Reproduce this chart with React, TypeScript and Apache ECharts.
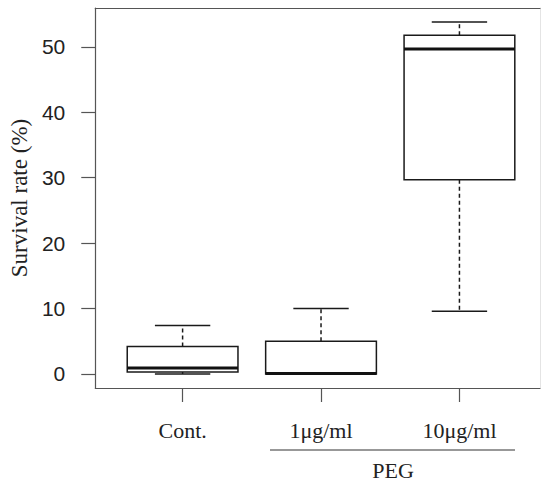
import React, { useEffect, useRef } from "react";
import * as echarts from "echarts";

const categories = ["Cont.", "1μg/ml", "10μg/ml"];
const positions = [1, 2, 3];
const whiskerLow = [0, 0, 9.6];
const q1 = [0.3, 0, 29.7];
const median = [0.9, 0.05, 49.7];
const q3 = [4.2, 5.0, 51.8];
const whiskerHigh = [7.4, 10.0, 53.8];
const yTicks = [0, 10, 20, 30, 40, 50];
const groupLabel = "PEG";
const yTitle = "Survival rate (%)";

const BOX_WIDTH = 0.8;
const STAPLE_WIDTH = 0.4;
const X_MIN = 0.369;
const X_MAX = 3.582;
const Y_MIN = -2.15;
const Y_MAX = 55.95;

export default function App() {
  const ref = useRef<HTMLDivElement>(null);
  useEffect(() => {
    if (!ref.current) return;
    const chart = echarts.init(ref.current, null, { renderer: "svg" });
    const data = positions.map((p, i) => [
      p,
      whiskerLow[i],
      q1[i],
      median[i],
      q3[i],
      whiskerHigh[i],
    ]);
    const stroke = "#1a1a1a";
    const frame = "#555";
    const option: any = {
      animation: false,
      backgroundColor: "#fff",
      grid: {
        left: 87,
        right: 2,
        top: 8,
        bottom: 95,
        show: false,
      },
      xAxis: [
        {
          type: "value",
          min: X_MIN,
          max: X_MAX,
          position: "bottom",
          splitLine: { show: false },
          axisLine: { show: true, onZero: false, lineStyle: { color: frame, width: 1.2 } },
          axisTick: {
            show: true,
            length: 14,
            customValues: positions,
            lineStyle: { color: frame, width: 1.2 },
          },
          axisLabel: {
            customValues: positions,
            margin: 31,
            fontFamily: "Liberation Serif",
            fontSize: 22,
            color: "#222",
            formatter: (v: number) => {
              const idx = positions.indexOf(Math.round(v));
              return idx >= 0 ? categories[idx] : "";
            },
          },
        },
        {
          type: "value",
          min: X_MIN,
          max: X_MAX,
          position: "top",
          splitLine: { show: false },
          axisLine: { show: true, onZero: false, lineStyle: { color: frame, width: 1.2 } },
          axisTick: { show: false },
          axisLabel: { show: false },
        },
      ],
      yAxis: [
        {
          type: "value",
          min: Y_MIN,
          max: Y_MAX,
          position: "left",
          splitLine: { show: false },
          axisLine: { show: true, onZero: false, lineStyle: { color: frame, width: 1.2 } },
          axisTick: {
            show: true,
            length: 14,
            customValues: yTicks,
            lineStyle: { color: frame, width: 1.2 },
          },
          axisLabel: {
            customValues: yTicks,
            margin: 30,
            fontFamily: "Liberation Sans",
            fontSize: 21,
            color: "#222",
          },
          name: yTitle,
          nameLocation: "middle",
          nameRotate: 90,
          nameGap: 61,
          nameTextStyle: {
            fontFamily: "Liberation Serif",
            fontSize: 23,
            color: "#222",
          },
        },
        {
          type: "value",
          min: Y_MIN,
          max: Y_MAX,
          position: "right",
          splitLine: { show: false },
          axisLine: { show: true, onZero: false, lineStyle: { color: "#e4e4e4", width: 1 } },
          axisTick: { show: false },
          axisLabel: { show: false },
        },
      ],
      series: [
        {
          type: "custom",
          data,
          xAxisIndex: 0,
          yAxisIndex: 0,
          encode: { x: 0, y: [1, 2, 3, 4, 5] },
          renderItem: (params: any, api: any) => {
            const x = api.value(0);
            const pLow = api.coord([x, api.value(1)]);
            const pQ1 = api.coord([x, api.value(2)]);
            const pMed = api.coord([x, api.value(3)]);
            const pQ3 = api.coord([x, api.value(4)]);
            const pHigh = api.coord([x, api.value(5)]);
            const halfW = api.size([BOX_WIDTH, 0])[0] / 2;
            const capHalf = api.size([STAPLE_WIDTH, 0])[0] / 2;
            const cx = pQ1[0];
            const dashStyle = {
              stroke,
              lineWidth: 1.5,
              lineDash: [4, 3],
            };
            const solid = { stroke, lineWidth: 1.5 };
            return {
              type: "group",
              children: [
                {
                  type: "line",
                  shape: { x1: cx, y1: pQ1[1], x2: cx, y2: pLow[1] },
                  style: dashStyle,
                },
                {
                  type: "line",
                  shape: { x1: cx, y1: pQ3[1], x2: cx, y2: pHigh[1] },
                  style: dashStyle,
                },
                {
                  type: "line",
                  shape: {
                    x1: cx - capHalf,
                    y1: pLow[1],
                    x2: cx + capHalf,
                    y2: pLow[1],
                  },
                  style: solid,
                },
                {
                  type: "line",
                  shape: {
                    x1: cx - capHalf,
                    y1: pHigh[1],
                    x2: cx + capHalf,
                    y2: pHigh[1],
                  },
                  style: solid,
                },
                {
                  type: "rect",
                  shape: {
                    x: cx - halfW,
                    y: pQ3[1],
                    width: halfW * 2,
                    height: pQ1[1] - pQ3[1],
                  },
                  style: { fill: "#fff", stroke, lineWidth: 1.5 },
                },
                {
                  type: "line",
                  shape: {
                    x1: cx - halfW,
                    y1: pMed[1],
                    x2: cx + halfW,
                    y2: pMed[1],
                  },
                  style: { stroke: "#111", lineWidth: 3 },
                },
              ],
            };
          },
        },
      ],
      graphic: [
        {
          type: "line",
          shape: { x1: 270, y1: 450, x2: 515, y2: 450 },
          style: { stroke: "#333", lineWidth: 1.2 },
        },
        {
          type: "text",
          x: 393,
          y: 470,
          style: {
            text: groupLabel,
            fontFamily: "Liberation Serif",
            fontSize: 22,
            fill: "#222",
            align: "center",
            verticalAlign: "middle",
          },
        },
      ],
    };
    chart.setOption(option);
    return () => chart.dispose();
  }, []);
  return (
    <div
      ref={ref}
      style={{ width: 542, height: 483, position: "absolute", left: 0, top: 0 }}
    />
  );
}
